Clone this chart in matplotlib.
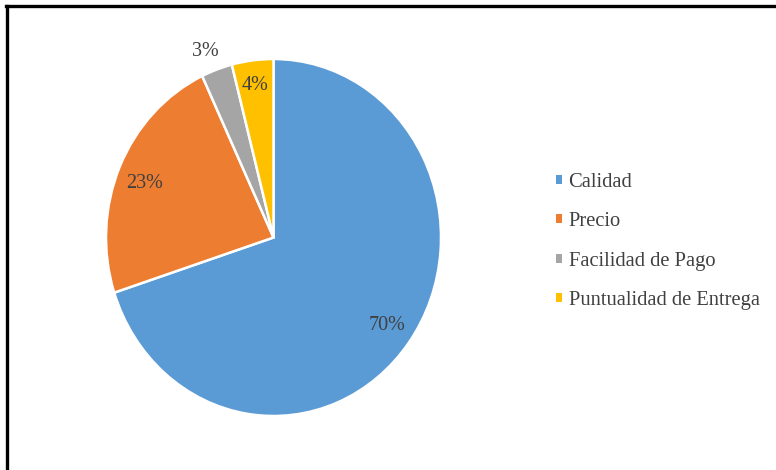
import matplotlib.pyplot as plt
from matplotlib.lines import Line2D
from matplotlib.patches import Patch
import numpy as np

# ----- DATA -----
categorias = ["Calidad", "Precio", "Facilidad de Pago", "Puntualidad de Entrega"]
porcentajes = [70, 23, 3, 4]
colores = ["#5B9BD5", "#ED7D31", "#A5A5A5", "#FFC000"]
# ----------------

plt.rcParams['font.family'] = ['Liberation Serif', 'DejaVu Serif']

fig = plt.figure(figsize=(7.76, 4.70), dpi=100)
ax = fig.add_axes([106 / 776, 54 / 470, 335 / 776, 357 / 470])

wedges, texts, autotexts = ax.pie(
    porcentajes, colors=colores, startangle=90, counterclock=False,
    autopct='%1.0f%%', pctdistance=0.83,
    wedgeprops={'edgecolor': 'white', 'linewidth': 1.8},
    textprops={'fontsize': 14.5, 'color': '#404040'})


def place_label(i, frac, r):
    # put a percentage label at fraction `frac` of the wedge's angular span, radius r
    w = wedges[i]
    ang = np.deg2rad(w.theta1 + frac * (w.theta2 - w.theta1))
    autotexts[i].set_position((r * np.cos(ang), r * np.sin(ang)))


place_label(0, 0.5, 0.84)
place_label(1, 0.525, 0.824)
place_label(2, 0.65, 1.12)   # small slice label goes outside the pie
place_label(3, 0.5, 0.86)

ax.set_aspect('auto')
ax.set_xlim(-1, 1)
ax.set_ylim(-1, 1)

# legend with plain square markers (no white edge)
handles = [Patch(facecolor=c, edgecolor='none') for c in colores]
leg = fig.legend(handles, categorias, loc='upper left', bbox_to_anchor=(548 / 776, 1 - 165 / 470),
                 frameon=False, fontsize=14.8, handlelength=0.3, handleheight=0.3,
                 handletextpad=0.3, labelspacing=0.98, borderaxespad=0)
for t in leg.get_texts():
    t.set_color('#404040')

# outer frame (only top and left visible in the crop)
fig.add_artist(Line2D([6 / 776, 1], [1 - 5.5 / 470, 1 - 5.5 / 470], color='black', linewidth=2.4,
                      transform=fig.transFigure))
fig.add_artist(Line2D([6.5 / 776, 6.5 / 776], [0, 1 - 5.5 / 470], color='black', linewidth=2.4,
                      transform=fig.transFigure))

plt.savefig("out.png", dpi=100)
